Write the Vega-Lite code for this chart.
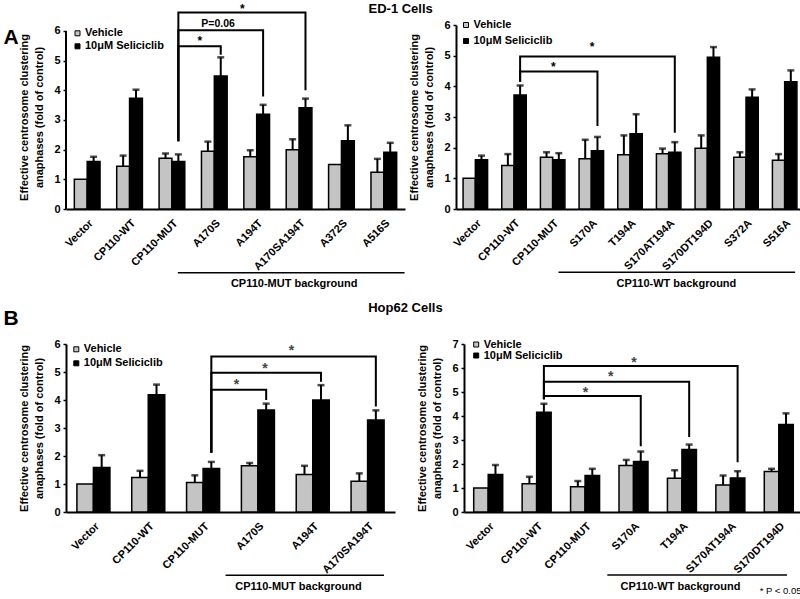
{
"$schema": "https://vega.github.io/schema/vega-lite/v6.json",
"padding": {"left": 3, "top": 2, "right": 0, "bottom": 0},
"config": {
  "font": "Liberation Sans",
  "view": {"stroke": null},
  "axis": {"domainColor": "black", "domainWidth": 2, "tickColor": "black", "labelColor": "black", "titleColor": "black", "labelFontWeight": "bold", "titleFontWeight": "bold", "grid": false, "labelFont": "Liberation Sans", "titleFont": "Liberation Sans", "labelOverlap": false},
  "axisX": {"labelAngle": -45, "ticks": false, "labelFontSize": 11, "labelPadding": 8, "labelOverlap": false},
  "axisY": {"labelFontSize": 11, "tickSize": 3, "tickWidth": 1.5, "labelPadding": 3, "titleFontSize": 11, "titleLineHeight": 15, "titlePadding": 9, "labelOverlap": false, "tickCount": 7},
  "legend": {"orient": "none", "symbolType": "square", "symbolSize": 25, "symbolStrokeColor": "black", "symbolStrokeWidth": 1, "labelFontSize": 11, "labelFontWeight": "bold", "labelColor": "black", "labelOffset": 2, "padding": 0, "labelFont": "Liberation Sans"},
  "title": {"fontWeight": "bold", "color": "black", "font": "Liberation Sans"},
  "text": {"font": "Liberation Sans", "color": "black"}
},
"datasets": {
  "barsA1": [
    {"g":"Vector","t":"Vehicle","v":1.0,"hi":null},
    {"g":"Vector","t":"10μM Seliciclib","v":1.60,"hi":1.76},
    {"g":"CP110-WT","t":"Vehicle","v":1.44,"hi":1.80},
    {"g":"CP110-WT","t":"10μM Seliciclib","v":3.73,"hi":4.02},
    {"g":"CP110-MUT","t":"Vehicle","v":1.71,"hi":1.87},
    {"g":"CP110-MUT","t":"10μM Seliciclib","v":1.60,"hi":1.84},
    {"g":"A170S","t":"Vehicle","v":1.95,"hi":2.27},
    {"g":"A170S","t":"10μM Seliciclib","v":4.48,"hi":5.11},
    {"g":"A194T","t":"Vehicle","v":1.76,"hi":1.98},
    {"g":"A194T","t":"10μM Seliciclib","v":3.19,"hi":3.51},
    {"g":"A170SA194T","t":"Vehicle","v":2.0,"hi":2.35},
    {"g":"A170SA194T","t":"10μM Seliciclib","v":3.41,"hi":3.72},
    {"g":"A372S","t":"Vehicle","v":1.5,"hi":null},
    {"g":"A372S","t":"10μM Seliciclib","v":2.3,"hi":2.82},
    {"g":"A516S","t":"Vehicle","v":1.24,"hi":1.69},
    {"g":"A516S","t":"10μM Seliciclib","v":1.91,"hi":2.23}
  ],
  "axA1": [{"g":"Vector","y0":0,"y1":6}],
  "brA1": [
    {"id":"a","o":1,"g":"CP110-MUT","t":"10μM Seliciclib","y":2.28},
    {"id":"a","o":2,"g":"CP110-MUT","t":"10μM Seliciclib","y":5.48},
    {"id":"a","o":3,"g":"A170S","t":"10μM Seliciclib","y":5.48},
    {"id":"a","o":4,"g":"A170S","t":"10μM Seliciclib","y":5.2},
    {"id":"b","o":1,"g":"CP110-MUT","t":"10μM Seliciclib","y":2.28},
    {"id":"b","o":2,"g":"CP110-MUT","t":"10μM Seliciclib","y":6.02},
    {"id":"b","o":3,"g":"A194T","t":"10μM Seliciclib","y":6.02},
    {"id":"b","o":4,"g":"A194T","t":"10μM Seliciclib","y":3.79},
    {"id":"c","o":1,"g":"CP110-MUT","t":"10μM Seliciclib","y":2.28},
    {"id":"c","o":2,"g":"CP110-MUT","t":"10μM Seliciclib","y":6.62},
    {"id":"c","o":3,"g":"A170SA194T","t":"10μM Seliciclib","y":6.62},
    {"id":"c","o":4,"g":"A170SA194T","t":"10μM Seliciclib","y":4.0}
  ],
  "txA1": [
    {"g":"A170S","y":5.53,"s":"*","p":"lo"},
    {"g":"A194T","y":6.61,"s":"*","p":"lo"},
    {"g":"A170S","y":6.13,"s":"P=0.06","p":"mid"}
  ],
  "bgA1": [{"g1":"CP110-MUT","g2":"A516S","y":-2.15,"gt":"A170SA194T","yt":-2.63,"s":"CP110-MUT background"}],
  "barsA2": [
    {"g":"Vector","t":"Vehicle","v":1.0,"hi":null},
    {"g":"Vector","t":"10μM Seliciclib","v":1.61,"hi":1.74},
    {"g":"CP110-WT","t":"Vehicle","v":1.42,"hi":1.79},
    {"g":"CP110-WT","t":"10μM Seliciclib","v":3.72,"hi":4.03},
    {"g":"CP110-MUT","t":"Vehicle","v":1.69,"hi":1.85},
    {"g":"CP110-MUT","t":"10μM Seliciclib","v":1.61,"hi":1.82},
    {"g":"S170A","t":"Vehicle","v":1.64,"hi":2.26},
    {"g":"S170A","t":"10μM Seliciclib","v":1.90,"hi":2.35},
    {"g":"T194A","t":"Vehicle","v":1.77,"hi":2.40},
    {"g":"T194A","t":"10μM Seliciclib","v":2.45,"hi":3.09},
    {"g":"S170AT194A","t":"Vehicle","v":1.80,"hi":1.97},
    {"g":"S170AT194A","t":"10μM Seliciclib","v":1.85,"hi":2.18},
    {"g":"S170DT194D","t":"Vehicle","v":1.98,"hi":2.40},
    {"g":"S170DT194D","t":"10μM Seliciclib","v":4.95,"hi":5.28},
    {"g":"S372A","t":"Vehicle","v":1.69,"hi":1.85},
    {"g":"S372A","t":"10μM Seliciclib","v":3.64,"hi":3.90},
    {"g":"S516A","t":"Vehicle","v":1.59,"hi":1.79},
    {"g":"S516A","t":"10μM Seliciclib","v":4.15,"hi":4.52}
  ],
  "brA2": [
    {"id":"a","o":1,"g":"CP110-WT","t":"10μM Seliciclib","y":4.15},
    {"id":"a","o":2,"g":"CP110-WT","t":"10μM Seliciclib","y":4.48},
    {"id":"a","o":3,"g":"S170A","t":"10μM Seliciclib","y":4.48},
    {"id":"a","o":4,"g":"S170A","t":"10μM Seliciclib","y":2.71},
    {"id":"b","o":1,"g":"CP110-WT","t":"10μM Seliciclib","y":4.15},
    {"id":"b","o":2,"g":"CP110-WT","t":"10μM Seliciclib","y":4.97},
    {"id":"b","o":3,"g":"S170AT194A","t":"10μM Seliciclib","y":4.97},
    {"id":"b","o":4,"g":"S170AT194A","t":"10μM Seliciclib","y":2.49}
  ],
  "txA2": [
    {"g":"CP110-MUT","y":4.50,"s":"*","p":"mid"},
    {"g":"S170A","y":5.15,"s":"*","p":"mid"}
  ],
  "bgA2": [{"g1":"CP110-MUT","g2":"S516A","y":-2.06,"gt":"S170AT194A","yt":-2.53,"s":"CP110-WT background"}],
  "barsB1": [
    {"g":"Vector","t":"Vehicle","v":1.0,"hi":null},
    {"g":"Vector","t":"10μM Seliciclib","v":1.59,"hi":2.03},
    {"g":"CP110-WT","t":"Vehicle","v":1.23,"hi":1.47},
    {"g":"CP110-WT","t":"10μM Seliciclib","v":4.19,"hi":4.55},
    {"g":"CP110-MUT","t":"Vehicle","v":1.05,"hi":1.31},
    {"g":"CP110-MUT","t":"10μM Seliciclib","v":1.55,"hi":1.79},
    {"g":"A170S","t":"Vehicle","v":1.65,"hi":1.75},
    {"g":"A170S","t":"10μM Seliciclib","v":3.64,"hi":3.87},
    {"g":"A194T","t":"Vehicle","v":1.34,"hi":1.65},
    {"g":"A194T","t":"10μM Seliciclib","v":4.0,"hi":4.53},
    {"g":"A170SA194T","t":"Vehicle","v":1.10,"hi":1.38},
    {"g":"A170SA194T","t":"10μM Seliciclib","v":3.29,"hi":3.63}
  ],
  "brB1": [
    {"id":"a","o":1,"g":"CP110-MUT","t":"10μM Seliciclib","y":2.12},
    {"id":"a","o":2,"g":"CP110-MUT","t":"10μM Seliciclib","y":4.37},
    {"id":"a","o":3,"g":"A170S","t":"10μM Seliciclib","y":4.37},
    {"id":"a","o":4,"g":"A170S","t":"10μM Seliciclib","y":4.0},
    {"id":"b","o":1,"g":"CP110-MUT","t":"10μM Seliciclib","y":2.12},
    {"id":"b","o":2,"g":"CP110-MUT","t":"10μM Seliciclib","y":4.97},
    {"id":"b","o":3,"g":"A194T","t":"10μM Seliciclib","y":4.97},
    {"id":"b","o":4,"g":"A194T","t":"10μM Seliciclib","y":4.65},
    {"id":"c","o":1,"g":"CP110-MUT","t":"10μM Seliciclib","y":2.12},
    {"id":"c","o":2,"g":"CP110-MUT","t":"10μM Seliciclib","y":5.55},
    {"id":"c","o":3,"g":"A170SA194T","t":"10μM Seliciclib","y":5.55},
    {"id":"c","o":4,"g":"A170SA194T","t":"10μM Seliciclib","y":3.77}
  ],
  "txB1": [
    {"g":"A170S","y":4.38,"s":"*","p":"lo"},
    {"g":"A194T","y":5.61,"s":"*","p":"lo"},
    {"g":"A170S","y":4.98,"s":"*","p":"mid"}
  ],
  "bgB1": [{"g1":"CP110-MUT","g2":"A170SA194T","y":-2.26,"gt":"A194T","yt":-2.80,"s":"CP110-MUT background"}],
  "barsB2": [
    {"g":"Vector","t":"Vehicle","v":1.0,"hi":null},
    {"g":"Vector","t":"10μM Seliciclib","v":1.56,"hi":1.96},
    {"g":"CP110-WT","t":"Vehicle","v":1.18,"hi":1.47},
    {"g":"CP110-WT","t":"10μM Seliciclib","v":4.16,"hi":4.51},
    {"g":"CP110-MUT","t":"Vehicle","v":1.05,"hi":1.29},
    {"g":"CP110-MUT","t":"10μM Seliciclib","v":1.52,"hi":1.80},
    {"g":"S170A","t":"Vehicle","v":1.94,"hi":2.17},
    {"g":"S170A","t":"10μM Seliciclib","v":2.10,"hi":2.52},
    {"g":"T194A","t":"Vehicle","v":1.41,"hi":1.74},
    {"g":"T194A","t":"10μM Seliciclib","v":2.60,"hi":2.81},
    {"g":"S170AT194A","t":"Vehicle","v":1.13,"hi":1.52},
    {"g":"S170AT194A","t":"10μM Seliciclib","v":1.42,"hi":1.70},
    {"g":"S170DT194D","t":"Vehicle","v":1.69,"hi":1.80},
    {"g":"S170DT194D","t":"10μM Seliciclib","v":3.65,"hi":4.11}
  ],
  "brB2": [
    {"id":"a","o":1,"g":"CP110-WT","t":"10μM Seliciclib","y":4.7},
    {"id":"a","o":2,"g":"CP110-WT","t":"10μM Seliciclib","y":4.83},
    {"id":"a","o":3,"g":"S170A","t":"10μM Seliciclib","y":4.83},
    {"id":"a","o":4,"g":"S170A","t":"10μM Seliciclib","y":2.74},
    {"id":"b","o":1,"g":"CP110-WT","t":"10μM Seliciclib","y":4.7},
    {"id":"b","o":2,"g":"CP110-WT","t":"10μM Seliciclib","y":5.43},
    {"id":"b","o":3,"g":"T194A","t":"10μM Seliciclib","y":5.43},
    {"id":"b","o":4,"g":"T194A","t":"10μM Seliciclib","y":3.13},
    {"id":"c","o":1,"g":"CP110-WT","t":"10μM Seliciclib","y":4.7},
    {"id":"c","o":2,"g":"CP110-WT","t":"10μM Seliciclib","y":6.08},
    {"id":"c","o":3,"g":"S170AT194A","t":"10μM Seliciclib","y":6.08},
    {"id":"c","o":4,"g":"S170AT194A","t":"10μM Seliciclib","y":2.07}
  ],
  "txB2": [
    {"g":"CP110-MUT","y":4.80,"s":"*","p":"mid"},
    {"g":"S170A","y":5.44,"s":"*","p":"lo"},
    {"g":"S170A","y":6.05,"s":"*","p":"mid"}
  ],
  "bgB2": [{"g1":"CP110-MUT","g2":"S170DT194D","y":-2.63,"gt":"T194A","yt":-3.25,"s":"CP110-WT background"}],
  "fnB2": [{"g":"S170DT194D","y":-3.40,"s":"* P < 0.05"}]
},
"spacing": 12,
"resolve": {"scale": {"x": "independent", "y": "independent", "xOffset": "independent", "color": "independent"}, "legend": {"color": "independent"}, "axis": {"x": "independent", "y": "independent"}},
"vconcat": [
 {
  "hconcat": [
   {
    "width": 339, "height": 184,
    "title": {"text": "A", "orient": "left", "anchor": "end", "frame": "group", "angle": 0, "align": "right", "baseline": "top", "fontSize": 21, "offset": -15, "dy": 1.7},
    "layer": [
     {"data": {"name": "barsA1"},
      "mark": {"type": "bar", "stroke": "black", "strokeWidth": 1.5},
      "encoding": {
        "x": {"field": "g", "type": "nominal", "scale": {"type": "band", "domain": ["Vector","CP110-WT","CP110-MUT","A170S","A194T","A170SA194T","A372S","A516S"], "paddingInner": 0, "paddingOuter": 0}, "axis": {"title": null}},
        "xOffset": {"field": "t", "type": "nominal", "scale": {"domain": ["Vehicle","10μM Seliciclib"], "paddingInner": 0, "paddingOuter": 0.649}},
        "y": {"field": "v", "type": "quantitative", "scale": {"domain": [0, 6.2], "nice": false}, "axis": {"values": [0,1,2,3,4,5,6], "labelOverlap": false, "domain": false, "title": ["Effective centrosome clustering", "anaphases  (fold of control)"]}},
        "color": {"field": "t", "type": "nominal", "scale": {"domain": ["Vehicle","10μM Seliciclib"], "range": ["#c4c4c4", "#000000"]}, "legend": {"title": null, "legendX": 6, "legendY": 2.8, "rowPadding": 1}}
      }},
     {"data": {"name": "axA1"},
      "mark": {"type": "rule", "color": "black", "strokeWidth": 2},
      "encoding": {
        "x": {"field": "g", "type": "nominal", "bandPosition": 0, "scale": {"type": "band", "domain": ["Vector","CP110-WT","CP110-MUT","A170S","A194T","A170SA194T","A372S","A516S"], "paddingInner": 0, "paddingOuter": 0}},
        "y": {"field": "y0", "type": "quantitative", "scale": {"domain": [0, 6.2], "nice": false}},
        "y2": {"field": "y1"}
      }},
     {"data": {"name": "barsA1"}, "transform": [{"filter": "isValid(datum.hi)"}],
      "mark": {"type": "rule", "color": "black", "strokeWidth": 2},
      "encoding": {
        "x": {"field": "g", "type": "nominal", "scale": {"type": "band", "domain": ["Vector","CP110-WT","CP110-MUT","A170S","A194T","A170SA194T","A372S","A516S"], "paddingInner": 0, "paddingOuter": 0}},
        "xOffset": {"field": "t", "type": "nominal", "scale": {"domain": ["Vehicle","10μM Seliciclib"], "paddingInner": 0, "paddingOuter": 0.649}},
        "y": {"field": "v", "type": "quantitative", "scale": {"domain": [0, 6.2], "nice": false}},
        "y2": {"field": "hi"}
      }},
     {"data": {"name": "barsA1"}, "transform": [{"filter": "isValid(datum.hi)"}],
      "mark": {"type": "tick", "color": "black", "size": 7, "thickness": 2.5},
      "encoding": {
        "x": {"field": "g", "type": "nominal", "scale": {"type": "band", "domain": ["Vector","CP110-WT","CP110-MUT","A170S","A194T","A170SA194T","A372S","A516S"], "paddingInner": 0, "paddingOuter": 0}},
        "xOffset": {"field": "t", "type": "nominal", "scale": {"domain": ["Vehicle","10μM Seliciclib"], "paddingInner": 0, "paddingOuter": 0.649}},
        "y": {"field": "hi", "type": "quantitative", "scale": {"domain": [0, 6.2], "nice": false}}
      }},
     {"data": {"name": "brA1"},
      "mark": {"type": "line", "color": "black", "strokeWidth": 2},
      "encoding": {
        "x": {"field": "g", "type": "nominal", "scale": {"type": "band", "domain": ["Vector","CP110-WT","CP110-MUT","A170S","A194T","A170SA194T","A372S","A516S"], "paddingInner": 0, "paddingOuter": 0}},
        "xOffset": {"field": "t", "type": "nominal", "scale": {"domain": ["Vehicle","10μM Seliciclib"], "paddingInner": 0, "paddingOuter": 0.649}},
        "y": {"field": "y", "type": "quantitative", "scale": {"domain": [0, 6.2], "nice": false}},
        "detail": {"field": "id"},
        "order": {"field": "o"}
      }},
     {"data": {"name": "txA1"}, "transform": [{"filter": "datum.p == 'lo'"}],
      "mark": {"type": "text", "fontSize": 12, "fontWeight": "bold", "baseline": "alphabetic"},
      "encoding": {
        "x": {"field": "g", "type": "nominal", "bandPosition": 0.16, "scale": {"type": "band", "domain": ["Vector","CP110-WT","CP110-MUT","A170S","A194T","A170SA194T","A372S","A516S"], "paddingInner": 0, "paddingOuter": 0}},
        "y": {"field": "y", "type": "quantitative", "scale": {"domain": [0, 6.2], "nice": false}},
        "text": {"field": "s"}
      }},
     {"data": {"name": "txA1"}, "transform": [{"filter": "datum.p == 'mid'"}],
      "mark": {"type": "text", "fontSize": 10.5, "fontWeight": "bold", "baseline": "alphabetic"},
      "encoding": {
        "x": {"field": "g", "type": "nominal", "bandPosition": 0.59, "scale": {"type": "band", "domain": ["Vector","CP110-WT","CP110-MUT","A170S","A194T","A170SA194T","A372S","A516S"], "paddingInner": 0, "paddingOuter": 0}},
        "y": {"field": "y", "type": "quantitative", "scale": {"domain": [0, 6.2], "nice": false}},
        "text": {"field": "s"}
      }},
     {"data": {"name": "bgA1"},
      "mark": {"type": "rule", "color": "black", "strokeWidth": 1.5},
      "encoding": {
        "x": {"field": "g1", "type": "nominal", "bandPosition": 0.64, "scale": {"type": "band", "domain": ["Vector","CP110-WT","CP110-MUT","A170S","A194T","A170SA194T","A372S","A516S"], "paddingInner": 0, "paddingOuter": 0}},
        "x2": {"field": "g2", "bandPosition": 0.99},
        "y": {"field": "y", "type": "quantitative", "scale": {"domain": [0, 6.2], "nice": false}}
      }},
     {"data": {"name": "bgA1"},
      "mark": {"type": "text", "fontSize": 11, "fontWeight": "bold", "baseline": "alphabetic"},
      "encoding": {
        "x": {"field": "gt", "type": "nominal", "bandPosition": 0.385, "scale": {"type": "band", "domain": ["Vector","CP110-WT","CP110-MUT","A170S","A194T","A170SA194T","A372S","A516S"], "paddingInner": 0, "paddingOuter": 0}},
        "y": {"field": "yt", "type": "quantitative", "scale": {"domain": [0, 6.2], "nice": false}},
        "text": {"field": "s"}
      }}
    ]
   },
   {
    "width": 348, "height": 184,
    "title": {"text": "ED-1 Cells", "orient": "top", "anchor": "start", "frame": "group", "align": "left", "baseline": "alphabetic", "fontSize": 13, "offset": -7, "dx": -87.5},
    "layer": [
     {"data": {"name": "barsA2"},
      "mark": {"type": "bar", "stroke": "black", "strokeWidth": 1.5},
      "encoding": {
        "x": {"field": "g", "type": "nominal", "scale": {"type": "band", "domain": ["Vector","CP110-WT","CP110-MUT","S170A","T194A","S170AT194A","S170DT194D","S372A","S516A"], "paddingInner": 0, "paddingOuter": 0}, "axis": {"title": null}},
        "xOffset": {"field": "t", "type": "nominal", "scale": {"domain": ["Vehicle","10μM Seliciclib"], "paddingInner": 0, "paddingOuter": 0.578}},
        "y": {"field": "v", "type": "quantitative", "scale": {"domain": [0, 6], "nice": false}, "axis": {"values": [0,1,2,3,4,5,6], "labelOverlap": false, "title": ["Effective centrosome clustering", "anaphases  (fold of control)"]}},
        "color": {"field": "t", "type": "nominal", "scale": {"domain": ["Vehicle","10μM Seliciclib"], "range": ["#c4c4c4", "#000000"]}, "legend": {"title": null, "legendX": 4.5, "legendY": -5.5, "rowPadding": 4}}
      }},
     {"data": {"name": "barsA2"}, "transform": [{"filter": "isValid(datum.hi)"}],
      "mark": {"type": "rule", "color": "black", "strokeWidth": 2},
      "encoding": {
        "x": {"field": "g", "type": "nominal", "scale": {"type": "band", "domain": ["Vector","CP110-WT","CP110-MUT","S170A","T194A","S170AT194A","S170DT194D","S372A","S516A"], "paddingInner": 0, "paddingOuter": 0}},
        "xOffset": {"field": "t", "type": "nominal", "scale": {"domain": ["Vehicle","10μM Seliciclib"], "paddingInner": 0, "paddingOuter": 0.578}},
        "y": {"field": "v", "type": "quantitative", "scale": {"domain": [0, 6], "nice": false}},
        "y2": {"field": "hi"}
      }},
     {"data": {"name": "barsA2"}, "transform": [{"filter": "isValid(datum.hi)"}],
      "mark": {"type": "tick", "color": "black", "size": 7, "thickness": 2.5},
      "encoding": {
        "x": {"field": "g", "type": "nominal", "scale": {"type": "band", "domain": ["Vector","CP110-WT","CP110-MUT","S170A","T194A","S170AT194A","S170DT194D","S372A","S516A"], "paddingInner": 0, "paddingOuter": 0}},
        "xOffset": {"field": "t", "type": "nominal", "scale": {"domain": ["Vehicle","10μM Seliciclib"], "paddingInner": 0, "paddingOuter": 0.578}},
        "y": {"field": "hi", "type": "quantitative", "scale": {"domain": [0, 6], "nice": false}}
      }},
     {"data": {"name": "brA2"},
      "mark": {"type": "line", "color": "black", "strokeWidth": 2},
      "encoding": {
        "x": {"field": "g", "type": "nominal", "scale": {"type": "band", "domain": ["Vector","CP110-WT","CP110-MUT","S170A","T194A","S170AT194A","S170DT194D","S372A","S516A"], "paddingInner": 0, "paddingOuter": 0}},
        "xOffset": {"field": "t", "type": "nominal", "scale": {"domain": ["Vehicle","10μM Seliciclib"], "paddingInner": 0, "paddingOuter": 0.578}},
        "y": {"field": "y", "type": "quantitative", "scale": {"domain": [0, 6], "nice": false}},
        "detail": {"field": "id"},
        "order": {"field": "o"}
      }},
     {"data": {"name": "txA2"},
      "mark": {"type": "text", "fontSize": 12, "fontWeight": "bold", "baseline": "alphabetic"},
      "encoding": {
        "x": {"field": "g", "type": "nominal", "bandPosition": 0.52, "scale": {"type": "band", "domain": ["Vector","CP110-WT","CP110-MUT","S170A","T194A","S170AT194A","S170DT194D","S372A","S516A"], "paddingInner": 0, "paddingOuter": 0}},
        "y": {"field": "y", "type": "quantitative", "scale": {"domain": [0, 6], "nice": false}},
        "text": {"field": "s"}
      }},
     {"data": {"name": "bgA2"},
      "mark": {"type": "rule", "color": "black", "strokeWidth": 1.5},
      "encoding": {
        "x": {"field": "g1", "type": "nominal", "bandPosition": 0.65, "scale": {"type": "band", "domain": ["Vector","CP110-WT","CP110-MUT","S170A","T194A","S170AT194A","S170DT194D","S372A","S516A"], "paddingInner": 0, "paddingOuter": 0}},
        "x2": {"field": "g2", "bandPosition": 0.77},
        "y": {"field": "y", "type": "quantitative", "scale": {"domain": [0, 6], "nice": false}}
      }},
     {"data": {"name": "bgA2"},
      "mark": {"type": "text", "fontSize": 11, "fontWeight": "bold", "baseline": "alphabetic"},
      "encoding": {
        "x": {"field": "gt", "type": "nominal", "bandPosition": 0.70, "scale": {"type": "band", "domain": ["Vector","CP110-WT","CP110-MUT","S170A","T194A","S170AT194A","S170DT194D","S372A","S516A"], "paddingInner": 0, "paddingOuter": 0}},
        "y": {"field": "yt", "type": "quantitative", "scale": {"domain": [0, 6], "nice": false}},
        "text": {"field": "s"}
      }}
    ]
   }
  ],
  "spacing": 51,
  "bounds": "flush",
  "resolve": {"scale": {"x": "independent", "y": "independent", "xOffset": "independent", "color": "independent"}, "legend": {"color": "independent"}, "axis": {"x": "independent", "y": "independent"}}
 },
 {
  "hconcat": [
   {
    "width": 329, "height": 168,
    "title": {"text": "B", "orient": "left", "anchor": "end", "frame": "group", "angle": 0, "align": "right", "baseline": "top", "fontSize": 21, "offset": -15, "dy": -36.4},
    "layer": [
     {"data": {"name": "barsB1"},
      "mark": {"type": "bar", "stroke": "black", "strokeWidth": 1.5},
      "encoding": {
        "x": {"field": "g", "type": "nominal", "scale": {"type": "band", "domain": ["Vector","CP110-WT","CP110-MUT","A170S","A194T","A170SA194T"], "paddingInner": 0, "paddingOuter": 0}, "axis": {"title": null}},
        "xOffset": {"field": "t", "type": "nominal", "scale": {"domain": ["Vehicle","10μM Seliciclib"], "paddingInner": 0, "paddingOuter": 0.66}},
        "y": {"field": "v", "type": "quantitative", "scale": {"domain": [0, 6], "nice": false}, "axis": {"values": [0,1,2,3,4,5,6], "labelOverlap": false, "title": ["Effective centrosome clustering", "anaphases  (fold of control)"]}},
        "color": {"field": "t", "type": "nominal", "scale": {"domain": ["Vehicle","10μM Seliciclib"], "range": ["#c4c4c4", "#000000"]}, "legend": {"title": null, "legendX": 4.8, "legendY": -0.2, "rowPadding": 2}}
      }},
     {"data": {"name": "barsB1"}, "transform": [{"filter": "isValid(datum.hi)"}],
      "mark": {"type": "rule", "color": "black", "strokeWidth": 2},
      "encoding": {
        "x": {"field": "g", "type": "nominal", "scale": {"type": "band", "domain": ["Vector","CP110-WT","CP110-MUT","A170S","A194T","A170SA194T"], "paddingInner": 0, "paddingOuter": 0}},
        "xOffset": {"field": "t", "type": "nominal", "scale": {"domain": ["Vehicle","10μM Seliciclib"], "paddingInner": 0, "paddingOuter": 0.66}},
        "y": {"field": "v", "type": "quantitative", "scale": {"domain": [0, 6], "nice": false}},
        "y2": {"field": "hi"}
      }},
     {"data": {"name": "barsB1"}, "transform": [{"filter": "isValid(datum.hi)"}],
      "mark": {"type": "tick", "color": "black", "size": 7, "thickness": 2.5},
      "encoding": {
        "x": {"field": "g", "type": "nominal", "scale": {"type": "band", "domain": ["Vector","CP110-WT","CP110-MUT","A170S","A194T","A170SA194T"], "paddingInner": 0, "paddingOuter": 0}},
        "xOffset": {"field": "t", "type": "nominal", "scale": {"domain": ["Vehicle","10μM Seliciclib"], "paddingInner": 0, "paddingOuter": 0.66}},
        "y": {"field": "hi", "type": "quantitative", "scale": {"domain": [0, 6], "nice": false}}
      }},
     {"data": {"name": "brB1"},
      "mark": {"type": "line", "color": "black", "strokeWidth": 2},
      "encoding": {
        "x": {"field": "g", "type": "nominal", "scale": {"type": "band", "domain": ["Vector","CP110-WT","CP110-MUT","A170S","A194T","A170SA194T"], "paddingInner": 0, "paddingOuter": 0}},
        "xOffset": {"field": "t", "type": "nominal", "scale": {"domain": ["Vehicle","10μM Seliciclib"], "paddingInner": 0, "paddingOuter": 0.66}},
        "y": {"field": "y", "type": "quantitative", "scale": {"domain": [0, 6], "nice": false}},
        "detail": {"field": "id"},
        "order": {"field": "o"}
      }},
     {"data": {"name": "txB1"}, "transform": [{"filter": "datum.p == 'lo'"}],
      "mark": {"type": "text", "fontSize": 14, "fontWeight": "bold", "baseline": "alphabetic", "color": "#444444"},
      "encoding": {
        "x": {"field": "g", "type": "nominal", "bandPosition": 0.11, "scale": {"type": "band", "domain": ["Vector","CP110-WT","CP110-MUT","A170S","A194T","A170SA194T"], "paddingInner": 0, "paddingOuter": 0}},
        "y": {"field": "y", "type": "quantitative", "scale": {"domain": [0, 6], "nice": false}},
        "text": {"field": "s"}
      }},
     {"data": {"name": "txB1"}, "transform": [{"filter": "datum.p == 'mid'"}],
      "mark": {"type": "text", "fontSize": 14, "fontWeight": "bold", "baseline": "alphabetic", "color": "#444444"},
      "encoding": {
        "x": {"field": "g", "type": "nominal", "bandPosition": 0.63, "scale": {"type": "band", "domain": ["Vector","CP110-WT","CP110-MUT","A170S","A194T","A170SA194T"], "paddingInner": 0, "paddingOuter": 0}},
        "y": {"field": "y", "type": "quantitative", "scale": {"domain": [0, 6], "nice": false}},
        "text": {"field": "s"}
      }},
     {"data": {"name": "bgB1"},
      "mark": {"type": "rule", "color": "black", "strokeWidth": 1.5},
      "encoding": {
        "x": {"field": "g1", "type": "nominal", "bandPosition": 0.91, "scale": {"type": "band", "domain": ["Vector","CP110-WT","CP110-MUT","A170S","A194T","A170SA194T"], "paddingInner": 0, "paddingOuter": 0}},
        "x2": {"field": "g2", "bandPosition": 0.80},
        "y": {"field": "y", "type": "quantitative", "scale": {"domain": [0, 6], "nice": false}}
      }},
     {"data": {"name": "bgB1"},
      "mark": {"type": "text", "fontSize": 11, "fontWeight": "bold", "baseline": "alphabetic"},
      "encoding": {
        "x": {"field": "gt", "type": "nominal", "bandPosition": 0.24, "scale": {"type": "band", "domain": ["Vector","CP110-WT","CP110-MUT","A170S","A194T","A170SA194T"], "paddingInner": 0, "paddingOuter": 0}},
        "y": {"field": "yt", "type": "quantitative", "scale": {"domain": [0, 6], "nice": false}},
        "text": {"field": "s"}
      }}
    ]
   },
   {
    "width": 339, "height": 168,
    "title": {"text": "Hop62 Cells", "orient": "top", "anchor": "start", "frame": "group", "align": "left", "baseline": "alphabetic", "fontSize": 13, "offset": 13, "dx": -95.8},
    "layer": [
     {"data": {"name": "barsB2"},
      "mark": {"type": "bar", "stroke": "black", "strokeWidth": 1.5},
      "encoding": {
        "x": {"field": "g", "type": "nominal", "scale": {"type": "band", "domain": ["Vector","CP110-WT","CP110-MUT","S170A","T194A","S170AT194A","S170DT194D"], "paddingInner": 0, "paddingOuter": 0}, "axis": {"title": null}},
        "xOffset": {"field": "t", "type": "nominal", "scale": {"domain": ["Vehicle","10μM Seliciclib"], "paddingInner": 0, "paddingOuter": 0.67}},
        "y": {"field": "v", "type": "quantitative", "scale": {"domain": [0, 7], "nice": false}, "axis": {"values": [0,1,2,3,4,5,6,7], "labelOverlap": false, "tickCount": 8, "title": ["Effective centrosome clustering", "anaphases  (fold of control)"]}},
        "color": {"field": "t", "type": "nominal", "scale": {"domain": ["Vehicle","10μM Seliciclib"], "range": ["#c4c4c4", "#000000"]}, "legend": {"title": null, "legendX": 6.7, "legendY": -5, "rowPadding": -1}}
      }},
     {"data": {"name": "barsB2"}, "transform": [{"filter": "isValid(datum.hi)"}],
      "mark": {"type": "rule", "color": "black", "strokeWidth": 2},
      "encoding": {
        "x": {"field": "g", "type": "nominal", "scale": {"type": "band", "domain": ["Vector","CP110-WT","CP110-MUT","S170A","T194A","S170AT194A","S170DT194D"], "paddingInner": 0, "paddingOuter": 0}},
        "xOffset": {"field": "t", "type": "nominal", "scale": {"domain": ["Vehicle","10μM Seliciclib"], "paddingInner": 0, "paddingOuter": 0.67}},
        "y": {"field": "v", "type": "quantitative", "scale": {"domain": [0, 7], "nice": false}, "axis": {"values": [0,1,2,3,4,5,6,7], "labelOverlap": false, "tickCount": 8, "title": ["Effective centrosome clustering", "anaphases  (fold of control)"]}},
        "y2": {"field": "hi"}
      }},
     {"data": {"name": "barsB2"}, "transform": [{"filter": "isValid(datum.hi)"}],
      "mark": {"type": "tick", "color": "black", "size": 7, "thickness": 2.5},
      "encoding": {
        "x": {"field": "g", "type": "nominal", "scale": {"type": "band", "domain": ["Vector","CP110-WT","CP110-MUT","S170A","T194A","S170AT194A","S170DT194D"], "paddingInner": 0, "paddingOuter": 0}},
        "xOffset": {"field": "t", "type": "nominal", "scale": {"domain": ["Vehicle","10μM Seliciclib"], "paddingInner": 0, "paddingOuter": 0.67}},
        "y": {"field": "hi", "type": "quantitative", "scale": {"domain": [0, 7], "nice": false}, "axis": {"values": [0,1,2,3,4,5,6,7], "labelOverlap": false, "tickCount": 8, "title": ["Effective centrosome clustering", "anaphases  (fold of control)"]}}
      }},
     {"data": {"name": "brB2"},
      "mark": {"type": "line", "color": "black", "strokeWidth": 2},
      "encoding": {
        "x": {"field": "g", "type": "nominal", "scale": {"type": "band", "domain": ["Vector","CP110-WT","CP110-MUT","S170A","T194A","S170AT194A","S170DT194D"], "paddingInner": 0, "paddingOuter": 0}},
        "xOffset": {"field": "t", "type": "nominal", "scale": {"domain": ["Vehicle","10μM Seliciclib"], "paddingInner": 0, "paddingOuter": 0.67}},
        "y": {"field": "y", "type": "quantitative", "scale": {"domain": [0, 7], "nice": false}, "axis": {"values": [0,1,2,3,4,5,6,7], "labelOverlap": false, "tickCount": 8, "title": ["Effective centrosome clustering", "anaphases  (fold of control)"]}},
        "detail": {"field": "id"},
        "order": {"field": "o"}
      }},
     {"data": {"name": "txB2"}, "transform": [{"filter": "datum.p == 'lo'"}],
      "mark": {"type": "text", "fontSize": 14, "fontWeight": "bold", "baseline": "alphabetic", "color": "#444444"},
      "encoding": {
        "x": {"field": "g", "type": "nominal", "bandPosition": 0.03, "scale": {"type": "band", "domain": ["Vector","CP110-WT","CP110-MUT","S170A","T194A","S170AT194A","S170DT194D"], "paddingInner": 0, "paddingOuter": 0}},
        "y": {"field": "y", "type": "quantitative", "scale": {"domain": [0, 7], "nice": false}, "axis": {"values": [0,1,2,3,4,5,6,7], "labelOverlap": false, "tickCount": 8, "title": ["Effective centrosome clustering", "anaphases  (fold of control)"]}},
        "text": {"field": "s"}
      }},
     {"data": {"name": "txB2"}, "transform": [{"filter": "datum.p == 'mid'"}],
      "mark": {"type": "text", "fontSize": 14, "fontWeight": "bold", "baseline": "alphabetic", "color": "#444444"},
      "encoding": {
        "x": {"field": "g", "type": "nominal", "bandPosition": 0.51, "scale": {"type": "band", "domain": ["Vector","CP110-WT","CP110-MUT","S170A","T194A","S170AT194A","S170DT194D"], "paddingInner": 0, "paddingOuter": 0}},
        "y": {"field": "y", "type": "quantitative", "scale": {"domain": [0, 7], "nice": false}, "axis": {"values": [0,1,2,3,4,5,6,7], "labelOverlap": false, "tickCount": 8, "title": ["Effective centrosome clustering", "anaphases  (fold of control)"]}},
        "text": {"field": "s"}
      }},
     {"data": {"name": "bgB2"},
      "mark": {"type": "rule", "color": "black", "strokeWidth": 1.5},
      "encoding": {
        "x": {"field": "g1", "type": "nominal", "bandPosition": 0.96, "scale": {"type": "band", "domain": ["Vector","CP110-WT","CP110-MUT","S170A","T194A","S170AT194A","S170DT194D"], "paddingInner": 0, "paddingOuter": 0}},
        "x2": {"field": "g2", "bandPosition": 0.67},
        "y": {"field": "y", "type": "quantitative", "scale": {"domain": [0, 7], "nice": false}, "axis": {"values": [0,1,2,3,4,5,6,7], "labelOverlap": false, "tickCount": 8, "title": ["Effective centrosome clustering", "anaphases  (fold of control)"]}}
      }},
     {"data": {"name": "bgB2"},
      "mark": {"type": "text", "fontSize": 11, "fontWeight": "bold", "baseline": "alphabetic"},
      "encoding": {
        "x": {"field": "gt", "type": "nominal", "bandPosition": 0.47, "scale": {"type": "band", "domain": ["Vector","CP110-WT","CP110-MUT","S170A","T194A","S170AT194A","S170DT194D"], "paddingInner": 0, "paddingOuter": 0}},
        "y": {"field": "yt", "type": "quantitative", "scale": {"domain": [0, 7], "nice": false}, "axis": {"values": [0,1,2,3,4,5,6,7], "labelOverlap": false, "tickCount": 8, "title": ["Effective centrosome clustering", "anaphases  (fold of control)"]}},
        "text": {"field": "s"}
      }},
     {"data": {"name": "fnB2"},
      "mark": {"type": "text", "fontSize": 9.5, "baseline": "alphabetic", "align": "right"},
      "encoding": {
        "x": {"field": "g", "type": "nominal", "bandPosition": 0.97, "scale": {"type": "band", "domain": ["Vector","CP110-WT","CP110-MUT","S170A","T194A","S170AT194A","S170DT194D"], "paddingInner": 0, "paddingOuter": 0}},
        "y": {"field": "y", "type": "quantitative", "scale": {"domain": [0, 7], "nice": false}, "axis": {"values": [0,1,2,3,4,5,6,7], "labelOverlap": false, "tickCount": 8, "title": ["Effective centrosome clustering", "anaphases  (fold of control)"]}},
        "text": {"field": "s"}
      }}
    ]
   }
  ],
  "spacing": 69,
  "bounds": "flush",
  "resolve": {"scale": {"x": "independent", "y": "independent", "xOffset": "independent", "color": "independent"}, "legend": {"color": "independent"}, "axis": {"x": "independent", "y": "independent"}}
 }
]
}
